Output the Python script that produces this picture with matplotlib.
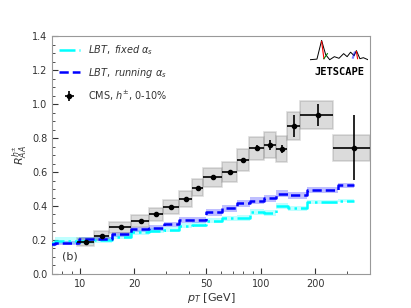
import matplotlib
matplotlib.use("Agg")
import matplotlib.pyplot as plt
from matplotlib.patches import Rectangle
from matplotlib.ticker import FixedLocator, NullFormatter, MultipleLocator
import numpy as np

plt.rcParams['mathtext.fontset'] = 'dejavusans'

# CMS h+- RAA, 0-10%
cms_lo = [9.6, 12, 14.4, 19.2, 24, 28.8, 35.2, 41.6, 48, 60.8, 73.6, 86.4, 103.6, 120.8, 140, 165, 250]
cms_hi = [12, 14.4, 19.2, 24, 28.8, 35.2, 41.6, 48, 60.8, 73.6, 86.4, 103.6, 120.8, 140, 165, 250, 400]
cms_raa = [0.188, 0.225, 0.274, 0.313, 0.351, 0.396, 0.443, 0.508, 0.569, 0.600, 0.670,
           0.740, 0.760, 0.736, 0.872, 0.937, 0.744]
cms_stat = [0.005, 0.005, 0.005, 0.005, 0.006, 0.007, 0.008, 0.010, 0.012, 0.014, 0.012,
            0.018, 0.031, 0.025, 0.066, 0.067, 0.19]
cms_sys = [0.026, 0.027, 0.033, 0.034, 0.040, 0.042, 0.047, 0.051, 0.056, 0.059, 0.064,
           0.070, 0.077, 0.075, 0.083, 0.081, 0.076]

# LBT curves at bin centres
lbt_pt = [6.8, 7.8, 9.0, 10.8, 13.2, 16.8, 21.6, 26.4, 32.0, 38.4, 44.8, 54.4, 67.2, 80.0,
          95.0, 112.2, 130.4, 152.5, 207.5, 325.0]
lbt_fixed = [0.18, 0.195, 0.195, 0.195, 0.20, 0.22, 0.245, 0.255, 0.26, 0.285, 0.29, 0.313,
             0.327, 0.33, 0.366, 0.361, 0.40, 0.386, 0.422, 0.431]
lbt_fixed_err = [0.02, 0.022, 0.022, 0.02, 0.018, 0.016, 0.015, 0.015, 0.015, 0.016, 0.016,
                 0.016, 0.017, 0.018, 0.018, 0.018, 0.018, 0.016, 0.012, 0.01]
lbt_run = [0.174, 0.183, 0.183, 0.203, 0.205, 0.233, 0.262, 0.27, 0.292, 0.317, 0.317, 0.363,
           0.386, 0.416, 0.432, 0.445, 0.473, 0.463, 0.494, 0.522]
lbt_run_err = [0.012, 0.012, 0.012, 0.012, 0.014, 0.015, 0.015, 0.016, 0.016, 0.018, 0.018,
               0.02, 0.022, 0.022, 0.022, 0.02, 0.02, 0.02, 0.016, 0.014]

# logo wiggle
logo_x = [0, 0.12, 0.2, 0.27, 0.34, 0.42, 0.5, 0.58, 0.64, 0.7, 0.76, 0.8, 0.86, 0.92, 1.0]
logo_y = [0.05, 0.08, 1.0, 0.3, 0.05, 0.2, 0.12, 0.35, 0.2, 0.42, 0.25, 0.5, 0.1, 0.15, 0.05]

fig = plt.figure(figsize=(4.11, 3.08), dpi=100)
ax = fig.add_axes([0.1265, 0.111, 0.7735, 0.7705])

lo = np.array(cms_lo)
hi = np.array(cms_hi)
mid = 0.5 * (lo + hi)
raa = np.array(cms_raa)
sys_e = np.array(cms_sys)
for i in range(len(mid)):
    ax.add_patch(Rectangle((lo[i], raa[i] - sys_e[i]), hi[i] - lo[i], 2 * sys_e[i],
                           facecolor='gray', edgecolor='gray', alpha=0.28, lw=1.2, zorder=3))

pt = np.array(lbt_pt)
fx = np.array(lbt_fixed)
fe = np.array(lbt_fixed_err)
rn = np.array(lbt_run)
re_ = np.array(lbt_run_err)
ax.fill_between(pt, fx - fe, fx + fe, step='mid', color='cyan', alpha=0.25, lw=0, zorder=2)
ax.fill_between(pt, rn - re_, rn + re_, step='mid', color='blue', alpha=0.25, lw=0, zorder=2)
ax.plot(pt, fx, drawstyle='steps-mid', color='cyan', ls='-.', lw=1.8,
        label=r'$LBT,\ fixed\ \alpha_s$', zorder=4)
ax.plot(pt, rn, drawstyle='steps-mid', color='blue', ls='--', lw=1.8,
        label=r'$LBT,\ running\ \alpha_s$', zorder=4)
ax.errorbar(mid, raa, xerr=[mid - lo, hi - mid], yerr=cms_stat, fmt='o', color='black',
            ms=3, elinewidth=1.2, capsize=0, label=r'CMS, $h^{\pm}$, 0-10%', zorder=5)

ax.set_xscale('log')
ax.set_xlim(7, 400)
ax.set_ylim(0, 1.4)
ax.xaxis.set_major_locator(FixedLocator([10, 20, 50, 100, 200]))
ax.xaxis.set_major_formatter(matplotlib.ticker.FixedFormatter(['10', '20', '50', '100', '200']))
ax.xaxis.set_minor_locator(FixedLocator([8, 9, 30, 40, 60, 70, 80, 90, 300]))
ax.xaxis.set_minor_formatter(NullFormatter())
ax.yaxis.set_major_locator(MultipleLocator(0.2))
ax.yaxis.set_minor_locator(MultipleLocator(0.05))
ax.tick_params(which='both', direction='in', top=False, right=False, labelsize=7,
               colors='#333333', labelcolor='#333333')
ax.tick_params(which='major', length=4)
ax.tick_params(which='minor', length=2)
for sp in ax.spines.values():
    sp.set_color('#999999')

ax.set_xlabel(r'$p_T$ [GeV]', fontsize=8, color='#333333', labelpad=2)
ax.set_ylabel(r'$R_{AA}^{h^{\pm}}$', fontsize=8, color='#333333', labelpad=2)
ax.text(0.03, 0.06, '(b)', transform=ax.transAxes, fontsize=8, color='#333333')

leg = ax.legend(loc='upper left', frameon=False, fontsize=7, handlelength=2.2,
                borderaxespad=0.3, labelspacing=0.9)
for t in leg.get_texts():
    t.set_color('#333333')

# JETSCAPE logo
lax = fig.add_axes([310 / 411, 1 - 77 / 308, 58 / 411, 37 / 308])
lax.axis('off')
lax.set_xlim(0, 1)
lax.set_ylim(-0.8, 1.02)
lax.plot(logo_x, logo_y, color='black', lw=0.7)
lax.plot([0.2, 0.24], [0.95, 0.1], color='red', lw=0.8)
lax.plot([0.24, 0.3], [0.1, 0.35], color='green', lw=0.8)
lax.plot([0.74, 0.77], [0.15, 0.4], color='blue', lw=1.5, alpha=0.5)
lax.plot([0.8, 0.82], [0.45, 0.1], color='red', lw=0.8)
lax.text(0.5, -0.78, 'JETSCAPE', ha='center', va='bottom', fontsize=7.5,
         fontweight='bold', family='DejaVu Sans Mono')

fig.savefig('out.png', dpi=100)
